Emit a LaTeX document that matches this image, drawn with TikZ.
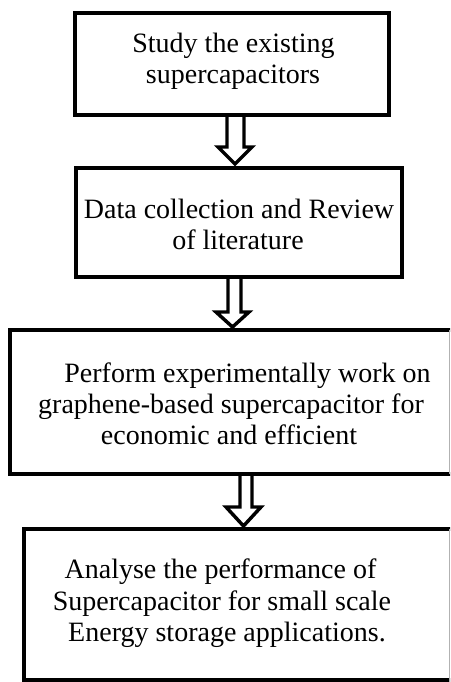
\documentclass[tikz,border=0pt]{standalone}
\usepackage{fontspec}
\setmainfont{Liberation Serif}
\begin{document}
\begin{tikzpicture}[x=0.75pt,y=-0.75pt,
  boxs/.style={draw=black,line width=3.4pt,fill=white,rectangle,inner sep=0pt},
  txt/.style={anchor=base,inner sep=0pt,font=\fontsize{21pt}{24pt}\selectfont},
  blk/.style={draw=black,line width=2.6pt,fill=white,line join=miter}]
\useasboundingbox (0,0) rectangle (450,682);
\clip (0,0) rectangle (450,682);
% boxes
\node[boxs,minimum width=314*0.75pt,minimum height=102*0.75pt] (b1) at (232,64) {};
\node[boxs,minimum width=326*0.75pt,minimum height=109*0.75pt] (b2) at (239,222.5) {};
\node[boxs,minimum width=470*0.75pt,minimum height=144*0.75pt] (b3) at (245,402) {};
\node[boxs,minimum width=450*0.75pt,minimum height=151*0.75pt] (b4) at (249,604.5) {};
\draw[gray!60,line width=0.6pt] (449.5,330) -- (449.5,474);
\draw[gray!60,line width=0.6pt] (449.5,529) -- (449.5,682);
% texts
\node[txt] (t1a) at (233.5,52) {Study the existing};
\node[txt] (t1b) at (233,83) {supercapacitors};
\node[txt] (t2a) at (239,218.5) {Data collection and Review};
\node[txt] (t2b) at (238,249.5) {of literature};
\node[txt] (t3a) at (247.5,382) {Perform experimentally work on};
\node[txt] (t3b) at (231,413) {graphene-based supercapacitor for};
\node[txt] (t3c) at (229,444) {economic and efficient};
\node[txt] (t4a) at (220.5,578) {Analyse the performance of};
\node[txt] (t4b) at (222,610) {Supercapacitor for small scale};
\node[txt] (t4c) at (227,641) {Energy storage applications.};
% block arrows
\draw[blk] (227,117) -- (227,147) -- (218,147) -- (235,164) -- (252,147) -- (244,147) -- (244,117);
\draw[blk] (228,279) -- (228,312) -- (216,312) -- (232.5,327) -- (249,312) -- (241,312) -- (241,279);
\draw[blk] (240,476) -- (240,507) -- (226,507) -- (243.5,526) -- (261,507) -- (252,507) -- (252,476);
\end{tikzpicture}
\end{document}
